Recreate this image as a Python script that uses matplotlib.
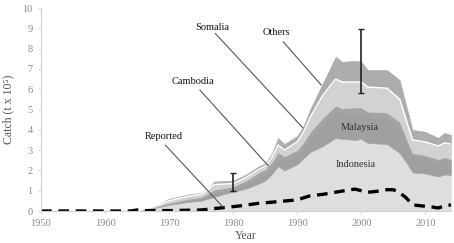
import matplotlib
matplotlib.use("Agg")
import matplotlib.pyplot as plt
import numpy as np

years = [1950, 1965, 1966, 1967, 1970, 1973, 1975, 1976, 1977, 1980, 1982, 1984, 1985,
         1986, 1987, 1988, 1990, 1991, 1992, 1994, 1996, 1997, 1999, 2000, 2001, 2004,
         2006, 2007, 2008, 2010, 2012, 2013, 2014]
indonesia = [0, 0, 0.02, 0.10, 0.30, 0.45, 0.50, 0.60, 0.70, 0.95, 1.10, 1.35, 1.50,
             1.80, 2.20, 2.00, 2.30, 2.60, 2.90, 3.20, 3.60, 3.55, 3.50, 3.55, 3.35, 3.30,
             2.85, 2.40, 1.90, 1.85, 1.70, 1.80, 1.77]
malaysia = [0, 0, 0, 0.01, 0.05, 0.08, 0.12, 0.15, 0.23, 0.13, 0.25, 0.37, 0.35,
            0.38, 0.45, 0.45, 0.45, 0.55, 0.75, 1.15, 1.35, 1.25, 1.35, 1.30, 1.30, 1.30,
            1.35, 1.05, 0.85, 0.80, 0.75, 0.75, 0.68]
cambodia = [0, 0, 0, 0.01, 0.05, 0.07, 0.08, 0.10, 0.12, 0.12, 0.15, 0.18, 0.20,
            0.22, 0.25, 0.25, 0.25, 0.25, 0.25, 0.25, 0.25, 0.25, 0.25, 0.25, 0.25, 0.25,
            0.20, 0.15, 0.10, 0.10, 0.10, 0.10, 0.10]
somalia = [0, 0, 0, 0.02, 0.10, 0.12, 0.12, 0.15, 0.25, 0.15, 0.15, 0.15, 0.15,
           0.20, 0.35, 0.30, 0.40, 0.50, 0.70, 1.10, 1.30, 1.30, 1.25, 1.25, 1.20, 1.20,
           1.10, 0.90, 0.65, 0.65, 0.65, 0.70, 0.75]
others = [0, 0, 0.01, 0.01, 0.10, 0.10, 0.08, 0.05, 0.15, 0.15, 0.15, 0.15, 0.15,
          0.20, 0.35, 0.30, 0.30, 0.30, 0.40, 0.60, 1.10, 1.00, 1.05, 1.00, 0.85, 0.90,
          0.95, 0.70, 0.50, 0.50, 0.40, 0.50, 0.45]

rep_years = [1950, 1964, 1965, 1966, 1970, 1975, 1977, 1979, 1981, 1984, 1987, 1990,
             1992, 1994, 1997, 1999, 2001, 2003, 2004, 2005, 2006, 2007, 2008, 2011,
             2012, 2013, 2014]
reported = [0, 0, 0.05, 0.02, 0.02, 0.05, 0.12, 0.18, 0.25, 0.38, 0.46, 0.55,
            0.75, 0.82, 0.98, 1.08, 0.92, 0.99, 1.05, 1.05, 0.90, 0.65, 0.30, 0.20,
            0.15, 0.25, 0.30]

err_years = [1980, 2000]
err_low = [0.98, 5.80]
err_high = [1.87, 8.97]

colors = ["#dedede", "#a0a0a0", "#a4a4a4", "#d2d2d2", "#adadad"]

serif = ["Liberation Serif", "DejaVu Serif"]
plt.rcParams["font.family"] = serif

fig = plt.figure(figsize=(4.54, 2.43), dpi=100)
ax = fig.add_axes([41/454, 1 - 211/243, 410/454, 203/243])

polys = ax.stackplot(years, indonesia, malaysia, cambodia, somalia, others,
                     colors=colors)
for p, c in zip(polys, colors):
    p.set_edgecolor(c)
    p.set_linewidth(0.4)
# white line at top of Somalia band
cum = np.cumsum([indonesia, malaysia, cambodia, somalia], axis=0)
ax.plot(years[3:], cum[3][3:], color="white", lw=1.1)

ax.plot(rep_years, reported, color="black", lw=2.4, dashes=(3.2, 2.0))

mid = [(l + h) / 2 for l, h in zip(err_low, err_high)]
half = [(h - l) / 2 for l, h in zip(err_low, err_high)]
ax.errorbar(err_years, mid, yerr=half, fmt="none", ecolor="#222222",
            elinewidth=1.2, capsize=2.2, capthick=1.0)

ann = dict(arrowstyle="-", color="#555555", lw=0.8, shrinkA=0, shrinkB=0)
tfont = dict(fontsize=7.5, color="#111111", ha="center", va="center")
ax.text(1976.7, 9.06, "Somalia", **tfont)
ax.text(1986.7, 8.77, "Others", **tfont)
ax.text(1973.75, 6.40, "Cambodia", **tfont)
ax.text(1969.2, 3.65, "Reported", **tfont)
ax.text(1999.8, 4.09, "Malaysia", fontsize=7.5, color="#333333", ha="center", va="center")
ax.text(1999.2, 2.30, "Indonesia", fontsize=7.5, color="#333333", ha="center", va="center")
ax.annotate("", xy=(1990.9, 4.09), xytext=(1977.2, 8.75), arrowprops=ann)
ax.annotate("", xy=(1993.75, 6.2), xytext=(1987.8, 8.34), arrowprops=ann)
ax.annotate("", xy=(1985.5, 2.22), xytext=(1974.8, 5.96), arrowprops=ann)
ax.annotate("", xy=(1978.4, 0.2), xytext=(1969.4, 3.25), arrowprops=ann)

ax.set_xlim(1950, 2014)
ax.set_ylim(0, 10)
ax.set_xticks(range(1950, 2011, 10))
ax.set_yticks(range(0, 11))
for s in ["top", "right"]:
    ax.spines[s].set_visible(False)
for s in ["left", "bottom"]:
    ax.spines[s].set_color("#d0d0d0")
    ax.spines[s].set_linewidth(0.8)
ax.tick_params(colors="#d0d0d0", labelcolor="#8a8a8a", labelsize=7.5,
               length=2.5, width=0.6)
ax.set_xlabel("Year", fontsize=8.5, color="#555555", labelpad=1)
ax.set_ylabel("Catch (t x 10\u2075)", fontsize=8.5, color="#555555", labelpad=6)

fig.savefig("out.png", dpi=100)
